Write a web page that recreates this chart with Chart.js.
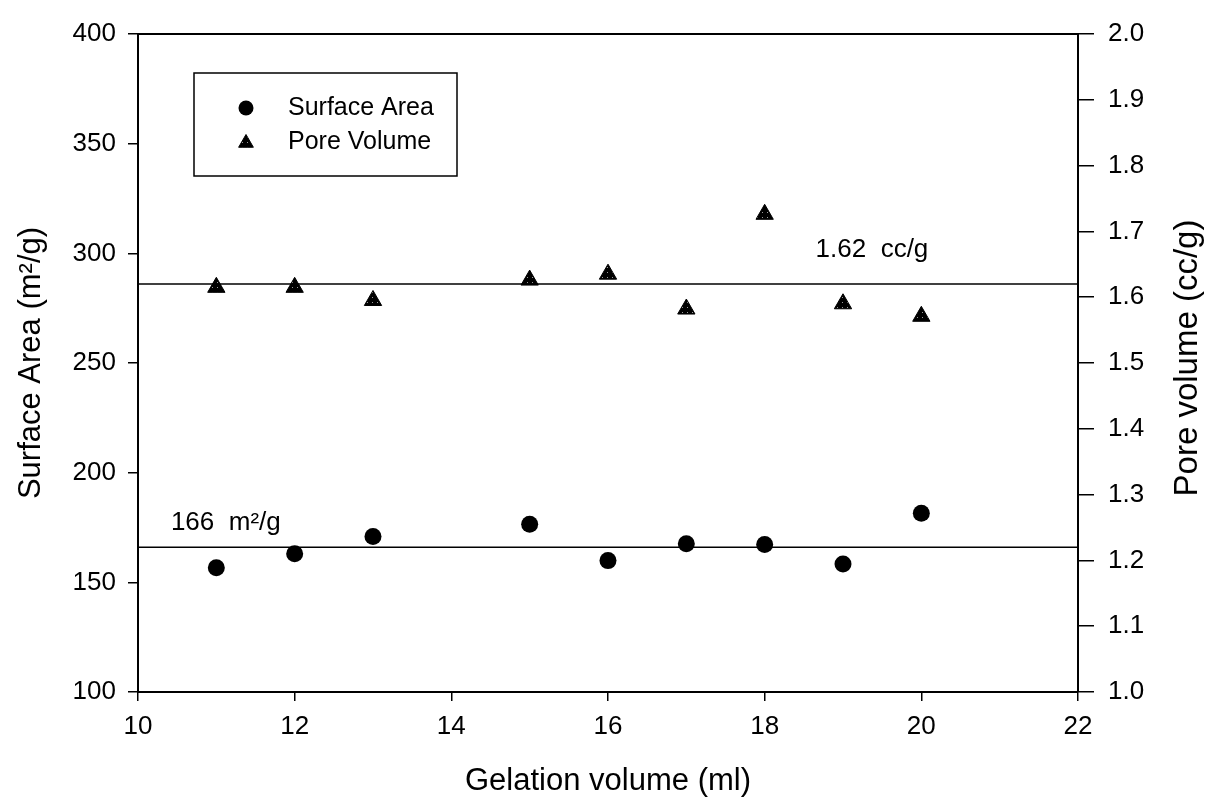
<!DOCTYPE html>
<html>
<head>
<meta charset="utf-8">
<script src="https://cdn.jsdelivr.net/npm/chart.js@4.4.1/dist/chart.umd.min.js"></script>
<style>
  html, body { margin: 0; padding: 0; background: #ffffff; }
  #wrap { width: 1206px; height: 800px; }
</style>
</head>
<body>
<div id="wrap"><canvas id="c" width="1206" height="800"></canvas></div>
<script>
// ---------------- data ----------------
const gelationVolume = [11, 12, 13, 15, 16, 17, 18, 19, 20];
const surfaceArea    = [156.7, 163.0, 170.9, 176.5, 159.9, 167.6, 167.2, 158.4, 181.5];
const poreVolume     = [1.615, 1.615, 1.595, 1.626, 1.635, 1.582, 1.726, 1.590, 1.571];
const surfaceAreaMean = 166;
const poreVolumeMean  = 1.62;
const meanLineX = [10, 22];
const xTicks  = [10, 12, 14, 16, 18, 20, 22];
const yTicks  = [100, 150, 200, 250, 300, 350, 400];
const y2Ticks = [1.0, 1.1, 1.2, 1.3, 1.4, 1.5, 1.6, 1.7, 1.8, 1.9, 2.0];
const labels = {
  x: 'Gelation volume (ml)',
  y: 'Surface Area (m\u00B2/g)',
  y2: 'Pore volume (cc/g)',
  saSeries: 'Surface Area',
  pvSeries: 'Pore Volume',
  saMeanText: '166  m\u00B2/g',
  pvMeanText: '1.62  cc/g'
};
// annotation anchor positions (data units)
const saMeanTextPos = { x: 10.42, y: 177 };
const pvMeanTextPos = { x: 18.65, y: 1.672 };

// ---------------- styling ----------------
const FONT = '"Liberation Sans", Arial, Helvetica, sans-serif';

function dotPattern() {
  const p = document.createElement('canvas');
  p.width = 5; p.height = 5;
  const g = p.getContext('2d');
  g.fillStyle = '#000';
  g.fillRect(0, 0, 5, 5);
  g.fillStyle = '#9a9a9a';
  g.fillRect(2, 2, 1, 1);
  return g.createPattern(p, 'repeat');
}
const triFill = dotPattern();

const saPoints = gelationVolume.map((x, i) => ({ x: x, y: surfaceArea[i] }));
const pvPoints = gelationVolume.map((x, i) => ({ x: x, y: poreVolume[i] }));
const saLine = meanLineX.map(x => ({ x: x, y: surfaceAreaMean }));
const pvLine = meanLineX.map(x => ({ x: x, y: poreVolumeMean }));

function drawTriangle(ctx, x, y, r) {
  ctx.beginPath();
  let rad = 0;
  ctx.moveTo(x + Math.sin(rad) * r, y - Math.cos(rad) * r);
  rad += 2 * Math.PI / 3;
  ctx.lineTo(x + Math.sin(rad) * r, y - Math.cos(rad) * r);
  rad += 2 * Math.PI / 3;
  ctx.lineTo(x + Math.sin(rad) * r, y - Math.cos(rad) * r);
  ctx.closePath();
}

const decorPlugin = {
  id: 'decor',
  afterDraw(chart) {
    const ctx = chart.ctx;
    const a = chart.chartArea;
    const xs = chart.scales.x, ys = chart.scales.y, y2s = chart.scales.y2;
    ctx.save();
    ctx.fillStyle = '#000';
    // mean annotations
    ctx.font = '26px ' + FONT;
    ctx.textBaseline = 'middle';
    ctx.textAlign = 'left';
    ctx.fillText(labels.saMeanText, xs.getPixelForValue(saMeanTextPos.x), ys.getPixelForValue(saMeanTextPos.y));
    ctx.fillText(labels.pvMeanText, xs.getPixelForValue(pvMeanTextPos.x), y2s.getPixelForValue(pvMeanTextPos.y));

    // legend box
    const bx = a.left + 56, by = a.top + 39, bw = 263, bh = 103;
    ctx.lineWidth = 1.5;
    ctx.strokeStyle = '#000';
    ctx.strokeRect(bx, by, bw, bh);
    const mx = bx + 52;
    const row1 = by + 35, row2 = by + 69;
    ctx.beginPath();
    ctx.arc(mx, row1, 7.5, 0, Math.PI * 2);
    ctx.fillStyle = '#000';
    ctx.fill();
    drawTriangle(ctx, mx, row2 + 1, 8.5);
    ctx.fillStyle = triFill;
    ctx.fill();
    ctx.lineWidth = 1;
    ctx.stroke();
    ctx.fillStyle = '#000';
    ctx.font = '25px ' + FONT;
    ctx.textAlign = 'left';
    ctx.fillText(labels.saSeries, bx + 94, row1);
    ctx.fillText(labels.pvSeries, bx + 94, row2);

    // right axis title (reads bottom-to-top)
    ctx.save();
    ctx.translate(1188, (a.top + a.bottom) / 2 - 5);
    ctx.rotate(-Math.PI / 2);
    ctx.textAlign = 'center';
    ctx.textBaseline = 'middle';
    ctx.font = '33px ' + FONT;
    ctx.fillText(labels.y2, 0, 0);
    ctx.restore();
    ctx.restore();
  }
};

const tickFont = { family: FONT, size: 26 };

new Chart(document.getElementById('c'), {
  type: 'scatter',
  data: {
    datasets: [
      {
        label: labels.saSeries,
        data: saPoints,
        xAxisID: 'x', yAxisID: 'y',
        pointStyle: 'circle',
        pointRadius: 8.5,
        backgroundColor: '#000',
        borderColor: '#000',
        borderWidth: 0,
        order: 1
      },
      {
        label: labels.pvSeries,
        data: pvPoints,
        xAxisID: 'x', yAxisID: 'y2',
        pointStyle: 'triangle',
        pointRadius: 10,
        backgroundColor: triFill,
        borderColor: '#000',
        borderWidth: 1,
        order: 1
      },
      {
        type: 'line',
        label: 'SA mean',
        data: saLine,
        xAxisID: 'x', yAxisID: 'y',
        borderColor: '#000',
        borderWidth: 1.5,
        pointRadius: 0,
        fill: false,
        order: 2
      },
      {
        type: 'line',
        label: 'PV mean',
        data: pvLine,
        xAxisID: 'x', yAxisID: 'y2',
        borderColor: '#000',
        borderWidth: 1.5,
        pointRadius: 0,
        fill: false,
        order: 2
      }
    ]
  },
  options: {
    responsive: false,
    animation: false,
    devicePixelRatio: 1,
    layout: { padding: 0 },
    plugins: {
      legend: { display: false },
      tooltip: { enabled: false }
    },
    scales: {
      x: {
        type: 'linear',
        position: 'bottom',
        min: 10, max: 22,
        afterBuildTicks: s => { s.ticks = xTicks.map(v => ({ value: v })); },
        afterFit: s => { s.height = 108; },
        ticks: { font: tickFont, color: '#000', padding: 10, maxRotation: 0 },
        grid: { drawOnChartArea: false, tickLength: 9, color: '#000', lineWidth: 1.5 },
        border: { color: '#000', width: 2 },
        title: { display: true, text: labels.x, font: { family: FONT, size: 31 }, color: '#000', padding: { top: 0, bottom: 0 } }
      },
      x2: {
        type: 'linear',
        position: 'top',
        min: 10, max: 22,
        afterFit: s => { s.height = 34; },
        ticks: { display: false },
        grid: { drawOnChartArea: false, drawTicks: false },
        border: { color: '#000', width: 2 }
      },
      y: {
        type: 'linear',
        position: 'left',
        min: 100, max: 400,
        afterBuildTicks: s => { s.ticks = yTicks.map(v => ({ value: v })); },
        afterFit: s => { s.width = 138; },
        ticks: { font: tickFont, color: '#000', padding: 12 },
        grid: { drawOnChartArea: false, tickLength: 10, color: '#000', lineWidth: 1.5 },
        border: { color: '#000', width: 2 },
        title: { display: true, text: labels.y, font: { family: FONT, size: 31 }, color: '#000', padding: { top: 13, bottom: 0 } }
      },
      y2: {
        type: 'linear',
        position: 'right',
        min: 1.0, max: 2.0,
        afterBuildTicks: s => { s.ticks = y2Ticks.map(v => ({ value: v })); },
        afterFit: s => { s.width = 128; },
        ticks: { font: tickFont, color: '#000', padding: 14, callback: v => Number(v).toFixed(1) },
        grid: { drawOnChartArea: false, tickLength: 16, color: '#000', lineWidth: 1.5 },
        border: { color: '#000', width: 2 }
      }
    }
  },
  plugins: [decorPlugin]
});
</script>
</body>
</html>
